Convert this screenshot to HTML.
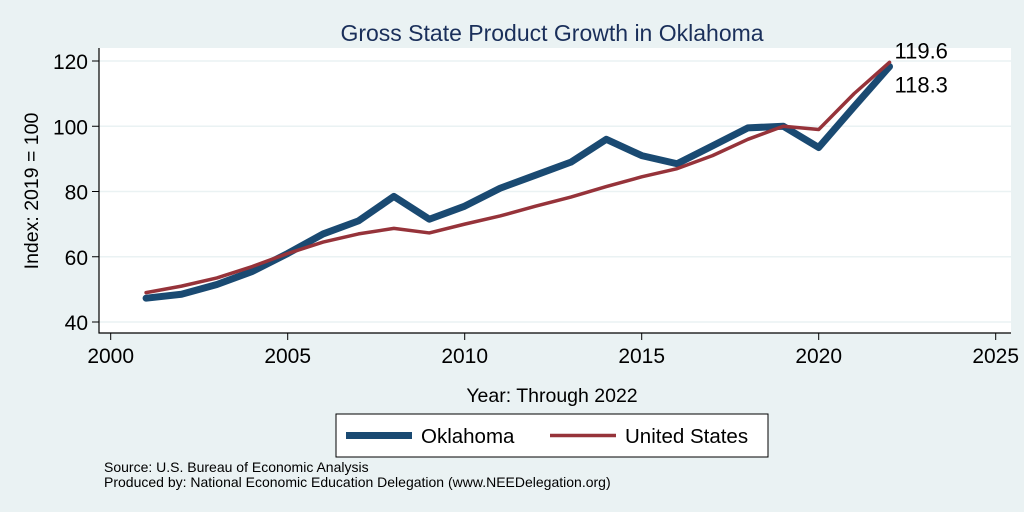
<!DOCTYPE html>
<html><head><meta charset="utf-8"><style>
body{margin:0;background:#eaf2f3;font-family:"Liberation Sans",sans-serif}
svg{display:block}
</style></head><body>
<svg width="1024" height="512" font-family="Liberation Sans, sans-serif">
<rect width="1024" height="512" fill="#eaf2f3"/>
<text x="552" y="41" font-size="23" fill="#1a2f5a" text-anchor="middle">Gross State Product Growth in Oklahoma</text>
<rect x="99" y="48" width="912" height="285" fill="#fff"/>
<g id="grid"></g><g id="axes"></g><g id="series"></g>
<text x="552" y="402" font-size="19.5" text-anchor="middle">Year: Through 2022</text>
<text transform="translate(38,191) rotate(-90)" font-size="19.5" text-anchor="middle">Index: 2019 = 100</text>
<rect x="336" y="414" width="432" height="43" fill="#fff" stroke="#000" stroke-width="1"/>
<g><line x1="346" y1="435.5" x2="412" y2="435.5" stroke="#1a4a72" stroke-width="7"/><text x="421" y="443" font-size="20.5">Oklahoma</text></g>
<g><line x1="550" y1="435.5" x2="616" y2="435.5" stroke="#96333a" stroke-width="3.5"/><text x="625" y="443" font-size="20.5">United States</text></g>
<text x="104" y="472" font-size="14">Source: U.S. Bureau of Economic Analysis</text>
<text x="104" y="487" font-size="14">Produced by: National Economic Education Delegation (www.NEEDelegation.org)</text>
</svg>
<script>
const years=[2001,2002,2003,2004,2005,2006,2007,2008,2009,2010,2011,2012,2013,2014,2015,2016,2017,2018,2019,2020,2021,2022];
const oklahoma=[47.3,48.5,51.5,55.5,61,67,71,78.5,71.5,75.5,81,85,89,96,91,88.5,94,99.5,100,93.5,106,118.3];
const unitedStates=[49,51,53.5,57,61,64.5,67,68.7,67.3,70,72.5,75.5,78.3,81.5,84.5,87,91,96,100,99,110,119.6];
const xTicks=[2000,2005,2010,2015,2020,2025];
const yTicks=[40,60,80,100,120];
const NS='http://www.w3.org/2000/svg';
const X=v=>110.7+(v-2000)*35.4, Y=v=>322-(v-40)*3.2625;
function mk(t,a,p){const e=document.createElementNS(NS,t);for(const k in a)e.setAttribute(k,a[k]);p.appendChild(e);return e;}
const g=document.getElementById('grid'),ax=document.getElementById('axes'),s=document.getElementById('series');
yTicks.forEach(v=>{
 const l=mk('line',{x1:99,x2:1011,y1:Y(v),y2:Y(v),stroke:'#eaf2f3','stroke-width':1.5},g);
 
 
 const tk=mk('line',{x1:92,x2:99,y1:Y(v),y2:Y(v),stroke:'#000'},ax);
 
 
 const t=mk('text',{x:88,y:Y(v)+8,'font-size':21,'text-anchor':'end'},ax);t.textContent=v;
 
 
});
xTicks.forEach(v=>{
 const tk=mk('line',{x1:X(v),x2:X(v),y1:333,y2:340,stroke:'#000'},ax);
 
 
 const t=mk('text',{x:X(v),y:363,'font-size':21,'text-anchor':'middle'},ax);t.textContent=v;
 
 
});
const a1=mk('line',{x1:99,x2:99,y1:48,y2:333.5,stroke:'#000','stroke-width':1.2},ax);


const a2=mk('line',{x1:98.5,x2:1011,y1:333,y2:333,stroke:'#000','stroke-width':1.2},ax);


function line(vals,color,w,name){
 const p=mk('polyline',{points:vals.map((v,i)=>X(years[i])+','+Y(v)).join(' '),fill:'none',stroke:color,'stroke-width':w,'stroke-linejoin':'round','stroke-linecap':'round'},s);
 
 
}
line(oklahoma,'#1a4a72',7,'oklahoma-line');
line(unitedStates,'#96333a',3.5,'united-states-line');
const n=years.length-1;
const l1=mk('text',{x:X(years[n])+5,y:Y(unitedStates[n])-4,'font-size':22},s);l1.textContent=unitedStates[n].toFixed(1);


const l2=mk('text',{x:X(years[n])+5,y:Y(oklahoma[n])+26,'font-size':22},s);l2.textContent=oklahoma[n].toFixed(1);


</script>
</body></html>
